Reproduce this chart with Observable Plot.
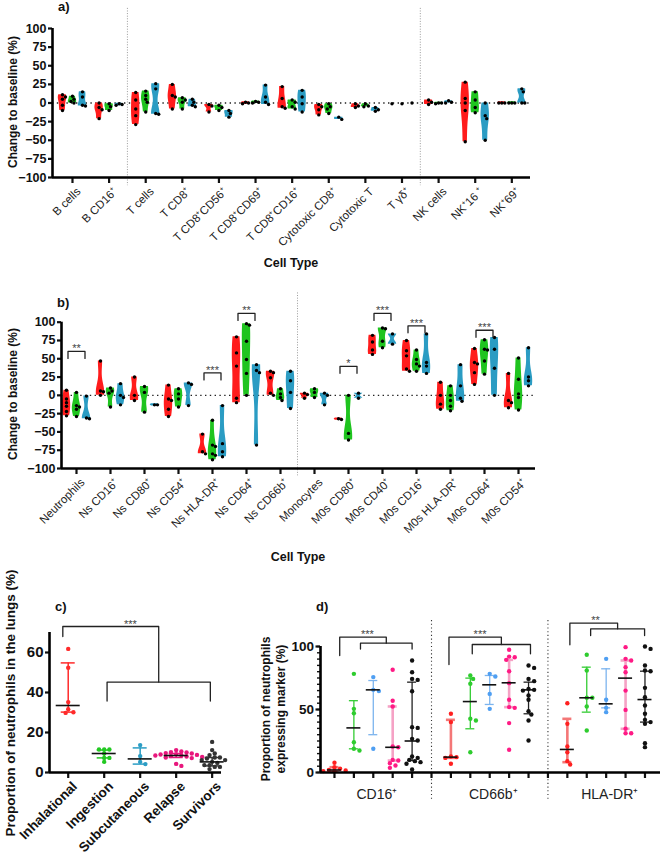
<!DOCTYPE html>
<html><head><meta charset="utf-8">
<script src="https://cdn.jsdelivr.net/npm/d3@7"></script>
<script src="https://cdn.jsdelivr.net/npm/@observablehq/plot@0.6"></script>
<style>
html,body{margin:0;padding:0;background:#fff;}
#root{position:relative;width:660px;height:854px;overflow:hidden;background:#fff;}
</style></head><body><div id="root"></div>
<script>
// ---------------- DATA ----------------
const cellTypesA = ["B cells","B CD16⁺","T cells","T CD8⁺","T CD8⁺CD56⁺","T CD8⁺CD69⁺","T CD8⁺CD16⁺","Cytotoxic CD8⁺","Cytotoxic T","T γδ⁺","NK cells","NK⁺16 ⁺","NK⁺69⁺"];
const aRed = [[11,8,5,-3,-10],[0,-6,-9,-21],[14,4,-8,-17,-29],[25,10,8,-8],[-2,-4,-12],[1,0,-1],[22,6,-5,-7],[-2,-5,-9,-16],[-1,-4,-6],[-1],[4,1,-2],[28,6,0,-10,-52],[0,0,0]];
const aGreen = [[9,5,2,0],[-1,-5,-10],[16,10,5,1,-12],[7,4,1,-8],[-3,-6,-10],[2,1,0],[4,1,-5,-8],[-1,-5,-8,-14],[-1,-4,-5],[-1],[0,-1,0],[15,4,-6,-13],[0,0,0]];
const aBlue = [[15,8,-3,-4],[-1,-2,-3],[26,19,-14,-15],[5,1,-3,-5],[-10,-14,-19],[24,8,1,-2],[17,8,-1,-12],[-19,-22],[-6,-9,-11],[0],[3,1,0],[0,-17,-21,-50],[19,15,0,0]];

const cellTypesB = ["Neutrophils","Ns CD16⁺","Ns CD80⁺","Ns CD54⁺","Ns HLA-DR⁺","Ns CD64⁺","Ns CD66b⁺","Monocytes","M0s CD80⁺","M0s CD40⁺","M0s CD16⁺","M0s HLA-DR⁺","M0s CD64⁺","M0s CD54⁺"];
const bRed = [[7,-5,-10,-15,-22,-28],[47,6,5,0],[25,0,-7],[14,-5,-7,-19,-29],[-53,-77,-80],[80,58,40,-4,-10],[33,31,24,3,0],[3,1,-4],[-32,-33],[82,73,62,56],[75,61,54,36,33],[18,0,-12,-19],[64,45,43,31,15],[30,-7,-10,-17]];
const bGreen = [[4,-14,-16,-19,-29],[10,6,3,-16],[12,4,-23],[9,2,-5,-16],[-34,-68,-70,-80,-82,-88],[98,96,74,49,30,0],[9,2,-3,-7],[9,4,-3],[0,-52,-61],[92,91,74,65],[62,49,43,40,33],[13,0,-7,-15,-21],[76,63,62,47,29],[51,22,2,-3,-20]];
const bBlue = [[-1,-31,-32],[16,0,-3,-13],[-13,-13],[17,15,-14],[-14,-66,-77,-84],[42,34,31,-68],[33,20,4,-18],[3,0,-13],[3,-4],[84,70],[84,45,40,30],[42,13,-4,-8],[79,63,37,0],[65,25,20,13]];
const sigBCats = [0,4,5,8,9,10,12];
const sigBLevels = [60,30.6,112,39.7,112,95,89];
const sigBLabels = ["**","***","**","*","***","***","***"];

const routes = ["Inhalational","Ingestion","Subcutaneous","Relapse","Survivors"];
const lungInhalational = [61.8,52.4,35.2,31.6,30.1,29.8];
const lungIngestion = [11.5,11.5,11.5,9.5,7.3,7.3,5.3];
const lungSubcutaneous = [13.7,8.2,5.3,4.2];
const lungRelapse = [11.2,10.5,10.2,10,9.7,9.5,9.2,9,8.8,8.5,8.5,8.2,8,7.8,7.5,7.2,4.3,3.3];
const lungSurvivors = [15.3,11.2,9.5,8.7,7.5,7.5,7,6.2,6.2,5.3,4.8,3.7,3.7,2.8,2.8,1.7];
const lungMedian = [33.5,9.5,6.8,8.5,5.3];
const lungLow = [30.2,7.3,4.2,7.5,3.3];
const lungHigh = [54.8,11.2,12.3,9.5,7.5];

const markers = ["CD16⁺","CD66b⁺","HLA-DR⁺"];
const cd16Values = [[7.7,4.2,3,2,1.6,1.1,1],[78.3,50.5,47,24,18.8,17.5],[75.7,65.6,64.6,18.8],[81.5,57,52.4,20.6,20,10,9.5,7.4,5.6,3.7],[88.9,79.6,74.3,73.5,64.5,36,35.4,26.7,25.4,12.7,11.6,10,9,8.2,6.9,2.4]];
const cd16Median = [2,35.4,65.6,20,25];
const cd16Low = [1,18.8,30,9.5,9.5];
const cd16High = [4.2,57,73,52.4,71.7];
const cd66bValues = [[46.6,40,12.7,12.2,11.6,6.9],[77,74.3,70.4,42.6,41.3,16.1],[78.3,76.2,62.4,50.5],[97.4,92,91.5,89.4,80.4,70.9,57.7,51.9,51.3,39.2,18],[84.9,83,74.3,72.5,66.4,65.6,65,61.1,57.7,48.7,46,41.3,25.4]];
const cd66bMedian = [12.2,56.3,69.6,71.2,65.6];
const cd66bLow = [11.6,34.7,54,51.9,46.6];
const cd66bHigh = [41.8,74.9,77,89.4,71.7];
const hlaValues = [[55,38.6,20.6,16.1,9,6.3],[93.4,81,59.3,59.3,52.4,33.3],[90.2,57.7,51.3,47.9],[99.5,90.2,88.9,83.6,79.6,65,49.7,34.7,31.2,31.2],[100,98.1,84.9,81,80.4,67.2,59.8,53.2,46.6,41.8,40,38.6,23.3,20.1]];
const hlaMedian = [18.3,59.3,54.5,74.9,57.9];
const hlaLow = [8.2,47.9,51.3,34.7,40];
const hlaHigh = [42.6,83.6,82.3,88.9,80.4];

// ---------------- HELPERS ----------------
const FONT = '"Liberation Sans", Arial, Helvetica, sans-serif';
const root = document.getElementById("root");
const violinColors = ["#ff1c1c","#1fc41f","#2b9cc3"];
const colorsC = ["#ff2a2a","#22c922","#2b9dc4","#e8177d","#333333"];
const dotColorsD = ["#ff2020","#2ecc2e","#4f9ff2","#ff1a85","#111111"];
const barColorsD = ["#f47777","#33cc33","#7cb4ee","#f5a2c5","#222222"];
const barWidthsD = [2.6,1.3,1.3,2.6,1.3];

function swarm(vals, pxY, r, step) {
  const order = vals.map((v,i)=>i).sort((a,b)=>vals[b]-vals[a]);
  const placed = [], off = vals.map(()=>0);
  for (const i of order) {
    const y = vals[i]*pxY;
    let chosen = 0;
    for (let k = 0; k < 40; k++) {
      const o = k === 0 ? 0 : (k % 2 ? 1 : -1) * Math.ceil(k/2) * step;
      if (placed.every(p => Math.hypot(p.x - o, p.y - y) >= 2*r - 0.4)) { chosen = o; break; }
    }
    off[i] = chosen; placed.push({x: chosen, y});
  }
  return off;
}

function place(el, left, top) {
  el.style.position = "absolute";
  el.style.left = left + "px";
  el.style.top = top + "px";
  el.style.overflow = "visible";
  el.style.background = "transparent";
  el.style.maxWidth = "none";
  root.appendChild(el);
}

const baseStyle = {fontFamily: FONT, background: "transparent", overflow: "visible", color: "#111"};

// rotated category labels drawn as a text mark at the bottom of the frame
function catLabels(n, names, yBase, opts) {
  return Plot.text(d3.range(n), {x: d => d, y: yBase, text: d => names[d], rotate: -45,
    textAnchor: "end", lineAnchor: "top", ...opts});
}

function violinPanel({cats, series, top, height, mTop, mBottom, mLeft, mRight, xDomain, vlines, vlineRange, sig}) {
  const width = 660;
  const pxX = (width - mLeft - mRight) / (xDomain[1] - xDomain[0]);
  const pxY = (height - mTop - mBottom) / 200;
  const offPx = [-10, 0, 10];
  const areas = [], dots = [];
  series.forEach((ser, s) => ser.forEach((vals, i) => {
    const cx = i + offPx[s] / pxX;
    const key = s + "-" + i;
    if (vals.length > 1) {
      let lo = d3.min(vals), hi = d3.max(vals);
      if (hi - lo < 2.5) { const m = (lo + hi) / 2; lo = m - 1.6; hi = m + 1.6; }
      const bw = Math.max((hi - lo) / 4, 1.5);
      const N = 40;
      const ys = d3.range(N + 1).map(k => lo + (hi - lo) * k / N);
      const dens = ys.map(y => d3.sum(vals, v => Math.exp(-0.5 * ((y - v) / bw) ** 2)));
      const mx = d3.max(dens);
      ys.forEach((y, k) => {
        const w = 4.2 * (0.25 + 0.75 * dens[k] / mx) / pxX;
        areas.push({key, c: violinColors[s], y, x1: cx - w, x2: cx + w});
      });
    }
    const offs = swarm(vals, pxY, 1.7, 1.5);
    vals.forEach((v, j) => dots.push({x: cx + offs[j] / pxX, y: v}));
  }));
  const brackets = [], sigText = [];
  if (sig) {
    const hw = 8.5 / pxX, leg = 7 / pxY;
    sig.cats.forEach((c, k) => {
      const y = sig.levels[k];
      [[c - hw, y - leg], [c - hw, y], [c + hw, y], [c + hw, y - leg]].forEach(([x, yy]) => brackets.push({id: k, x, y: yy}));
      sigText.push({x: c, y, t: sig.labels[k]});
    });
  }
  const p = Plot.plot({
    width, height, marginTop: mTop, marginBottom: mBottom, marginLeft: mLeft, marginRight: mRight,
    x: {type: "linear", domain: xDomain},
    y: {domain: [-100, 100]},
    color: {type: "identity"},
    style: baseStyle,
    marks: [
      Plot.ruleX(vlines, {y1: vlineRange[0], y2: vlineRange[1], stroke: "#9a9a9a", strokeWidth: 1, strokeDasharray: "1,1.6"}),
      Plot.ruleY([0], {stroke: "#222", strokeWidth: 1.4, strokeDasharray: "1.4,3.4"}),
      Plot.areaX(areas, {y: "y", x1: "x1", x2: "x2", z: "key", fill: "c"}),
      Plot.dot(dots, {x: "x", y: "y", r: 1.7, fill: "#000"}),
      Plot.line(brackets, {x: "x", y: "y", z: "id", stroke: "#222", strokeWidth: 1.3}),
      Plot.text(sigText, {x: "x", y: "y", text: "t", lineAnchor: "bottom", dy: 1, fontSize: 11, fill: "#444"}),
      Plot.axisY({ticks: d3.range(-100, 101, 25), tickSize: 4, tickPadding: 2, strokeWidth: 2.2, fontSize: 12.5, fontWeight: "bold", label: null}),
      Plot.axisX({ticks: d3.range(cats.length), tickSize: 6, strokeWidth: 2.2, fill: "none", label: null}),
      catLabels(cats.length, cats, -100, {dy: 9, dx: 3, fontSize: 11.5, fill: "#222"}),
      Plot.ruleX([xDomain[0]], {stroke: "#000", strokeWidth: 2.6}),
      Plot.ruleY([-100], {stroke: "#000", strokeWidth: 2.6})
    ]
  });
  place(p, 0, top);
}

// ---------------- PANEL A ----------------
violinPanel({cats: cellTypesA, series: [aRed, aGreen, aBlue], top: 0, height: 270,
  mTop: 28, mBottom: 93, mLeft: 52, mRight: 130, xDomain: [-0.546, 12.51],
  vlines: [1.5, 9.5], vlineRange: [127, -111]});

// ---------------- PANEL B ----------------
violinPanel({cats: cellTypesB, series: [bRed, bGreen, bBlue], top: 290, height: 270,
  mTop: 31.7, mBottom: 92, mLeft: 61, mRight: 125, xDomain: [-0.441, 13.5],
  vlines: [6.5], vlineRange: [140, -110],
  sig: {cats: sigBCats, levels: sigBLevels, labels: sigBLabels}});

// ---------------- PANEL C ----------------
(function() {
  const xDomain = [-0.52, 4.26];
  const pxX = (280 - 49 - 59) / (xDomain[1] - xDomain[0]);
  const pxY = 140 / 70;
  const groups = [lungInhalational, lungIngestion, lungSubcutaneous, lungRelapse, lungSurvivors];
  const dots = [], err = [], caps = [], med = [];
  groups.forEach((vals, i) => {
    const offs = swarm(vals, pxY, 2.2, 2.6);
    vals.forEach((v, j) => dots.push({x: i + offs[j] / pxX, y: v, c: colorsC[i]}));
    err.push({x: i, lo: lungLow[i], hi: lungHigh[i], c: colorsC[i]});
    const cw = 7 / pxX, mw = 12 / pxX;
    caps.push({y: lungLow[i], x1: i - cw, x2: i + cw, c: colorsC[i]});
    caps.push({y: lungHigh[i], x1: i - cw, x2: i + cw, c: colorsC[i]});
    med.push({y: lungMedian[i], x1: i - mw, x2: i + mw});
  });
  const b1 = 1.08, b2 = 3.95, conn = (b1 + b2) / 2;
  const bracket = [
    {id: 0, x: -0.15, y: 68}, {id: 0, x: -0.15, y: 73}, {id: 0, x: conn, y: 73}, {id: 0, x: conn, y: 45.2},
    {id: 1, x: b1, y: 35.7}, {id: 1, x: b1, y: 45.2}, {id: 1, x: b2, y: 45.2}, {id: 1, x: b2, y: 35.7}
  ];
  const p = Plot.plot({
    width: 280, height: 254, marginTop: 32, marginBottom: 82, marginLeft: 49, marginRight: 59,
    x: {type: "linear", domain: xDomain},
    y: {domain: [0, 70]},
    color: {type: "identity"},
    style: baseStyle,
    marks: [
      Plot.ruleX(err, {x: "x", y1: "lo", y2: "hi", stroke: "c", strokeWidth: 1.5}),
      Plot.ruleY(caps, {y: "y", x1: "x1", x2: "x2", stroke: "c", strokeWidth: 1.5}),
      Plot.dot(dots, {x: "x", y: "y", r: 2.2, fill: "c"}),
      Plot.ruleY(med, {y: "y", x1: "x1", x2: "x2", stroke: "#111", strokeWidth: 1.6}),
      Plot.line(bracket, {x: "x", y: "y", z: "id", stroke: "#222", strokeWidth: 1.3}),
      Plot.text([{x: 1.73, y: 73, t: "***"}], {x: "x", y: "y", text: "t", lineAnchor: "bottom", dy: 1, fontSize: 11, fill: "#444"}),
      Plot.axisY({ticks: [0, 20, 40, 60], tickSize: 4, tickPadding: 2, strokeWidth: 2.2, fontSize: 15, fontWeight: "bold", label: null}),
      Plot.axisX({ticks: d3.range(5), tickSize: 6, strokeWidth: 2.2, fill: "none", label: null}),
      catLabels(5, routes, 0, {dy: 8, dx: 3, fontSize: 13.5, fontWeight: "bold", fill: "#111"}),
      Plot.ruleX([xDomain[0]], {stroke: "#000", strokeWidth: 2.6}),
      Plot.ruleY([0], {stroke: "#000", strokeWidth: 2.6})
    ]
  });
  place(p, 0, 600);
})();

// ---------------- PANEL D ----------------
(function() {
  const xDomain = [-0.72, 16.8];
  const pxX = 340 / (xDomain[1] - xDomain[0]);
  const pxY = 126 / 100;
  const sets = [[cd16Values, cd16Median, cd16Low, cd16High], [cd66bValues, cd66bMedian, cd66bLow, cd66bHigh], [hlaValues, hlaMedian, hlaLow, hlaHigh]];
  const dots = [], err = [], caps = [], med = [];
  sets.forEach(([vals, md, lo, hi], m) => {
    vals.forEach((g, r) => {
      const x = m * 6 + r;
      const offs = swarm(g, pxY, 2.2, 2.8);
      g.forEach((v, j) => dots.push({x: x + offs[j] / pxX, y: v, c: dotColorsD[r]}));
      err.push({x, lo: lo[r], hi: hi[r], c: barColorsD[r], w: barWidthsD[r]});
      const cw = 4.5 / pxX, mw = 7 / pxX;
      caps.push({y: lo[r], x1: x - cw, x2: x + cw, c: barColorsD[r], w: barWidthsD[r]});
      caps.push({y: hi[r], x1: x - cw, x2: x + cw, c: barColorsD[r], w: barWidthsD[r]});
      med.push({y: md[r], x1: x - mw, x2: x + mw});
    });
  });
  const br = [
    {a: 0.27, legEnd: 92.8, top: 107.4, b1: 1.34, b2: 4.0, inner: 102.6, innerEnd: 98, lx: 1.7, t: "***"},
    {a: 5.9, legEnd: 85.7, top: 107.4, b1: 7.1, b2: 10.1, inner: 101.6, innerEnd: 94.2, lx: 7.5, t: "***"},
    {a: 12.13, legEnd: 101.3, top: 118.5, b1: 13.2, b2: 15.98, inner: 114, innerEnd: 108.7, lx: 13.45, t: "**"}
  ];
  const lines = [], labs = [];
  br.forEach((b, k) => {
    const conn = (b.b1 + b.b2) / 2;
    [[b.a, b.legEnd], [b.a, b.top], [conn, b.top], [conn, b.inner]].forEach(([x, y]) => lines.push({id: "o" + k, x, y}));
    [[b.b1, b.innerEnd], [b.b1, b.inner], [b.b2, b.inner], [b.b2, b.innerEnd]].forEach(([x, y]) => lines.push({id: "i" + k, x, y}));
    labs.push({x: b.lx, y: b.top, t: b.t});
  });
  const p = Plot.plot({
    width: 380, height: 254, marginTop: 46, marginBottom: 82, marginLeft: 40, marginRight: 0,
    x: {type: "linear", domain: xDomain},
    y: {domain: [0, 100]},
    color: {type: "identity"},
    style: baseStyle,
    marks: [
      Plot.ruleX([5, 11], {y1: 120.6, y2: -22.2, stroke: "#333", strokeWidth: 1.1, strokeDasharray: "1.1,2.6"}),
      Plot.ruleX(err, {x: "x", y1: "lo", y2: "hi", stroke: "c", strokeWidth: "w"}),
      Plot.ruleY(caps, {y: "y", x1: "x1", x2: "x2", stroke: "c", strokeWidth: "w"}),
      Plot.dot(dots, {x: "x", y: "y", r: 2.2, fill: "c"}),
      Plot.ruleY(med, {y: "y", x1: "x1", x2: "x2", stroke: "#111", strokeWidth: 1.6}),
      Plot.line(lines, {x: "x", y: "y", z: "id", stroke: "#222", strokeWidth: 1.3}),
      Plot.text(labs, {x: "x", y: "y", text: "t", lineAnchor: "bottom", dy: 1, fontSize: 11, fill: "#444"}),
      Plot.axisY({ticks: d3.range(0, 101, 5), tickSize: 3, strokeWidth: 1.4, fill: "none", label: null}),
      Plot.axisY({ticks: [0, 50, 100], tickSize: 4.5, tickPadding: 2, strokeWidth: 2.2, fontSize: 13.5, fontWeight: "bold", label: null}),
      Plot.axisX({ticks: d3.range(17), tickSize: 6, strokeWidth: 2.2, fill: "none", label: null}),
      Plot.ruleX([xDomain[0]], {stroke: "#000", strokeWidth: 2.6}),
      Plot.ruleY([0], {stroke: "#000", strokeWidth: 2.6})
    ]
  });
  place(p, 280, 600);
})();

// ---------------- TEXT OVERLAY ----------------
const ov = d3.select(root).append("svg")
  .attr("width", 660).attr("height", 854)
  .style("position", "absolute").style("left", "0px").style("top", "0px")
  .style("pointer-events", "none").style("font-family", FONT);
function txt(x, y, s, {size = 12, weight = "bold", rotate = 0, anchor = "middle", baseline = "central", fill = "#111"} = {}) {
  ov.append("text").attr("x", x).attr("y", y)
    .attr("transform", rotate ? `rotate(${rotate},${x},${y})` : null)
    .attr("text-anchor", anchor).attr("dominant-baseline", baseline)
    .attr("font-size", size).attr("font-weight", weight).attr("fill", fill).text(s);
}
txt(58, 11, "a)", {size: 13, anchor: "start", baseline: "auto"});
txt(57, 307, "b)", {size: 13, anchor: "start", baseline: "auto"});
txt(55, 611, "c)", {size: 13, anchor: "start", baseline: "auto"});
txt(316, 611, "d)", {size: 13, anchor: "start", baseline: "auto"});
txt(13, 102, "Change to baseline (%)", {size: 12, rotate: -90});
txt(13, 394, "Change to baseline (%)", {size: 12, rotate: -90});
txt(291, 263, "Cell Type", {size: 12.5});
txt(298, 557, "Cell Type", {size: 12.5});
txt(10, 703, "Proportion of neutrophils in the lungs (%)", {size: 13.5, rotate: -90});
txt(266, 709, "Proportion of neutrophils", {size: 12, rotate: -90});
txt(281, 709, "expressing marker (%)", {size: 12, rotate: -90});
const dPos = i => 334 + 19.41 * i;
markers.forEach((m, k) => txt(dPos(k * 6 + 2) + 4, 794, m, {size: 14, weight: "normal", fill: "#222"}));
</script></body></html>
